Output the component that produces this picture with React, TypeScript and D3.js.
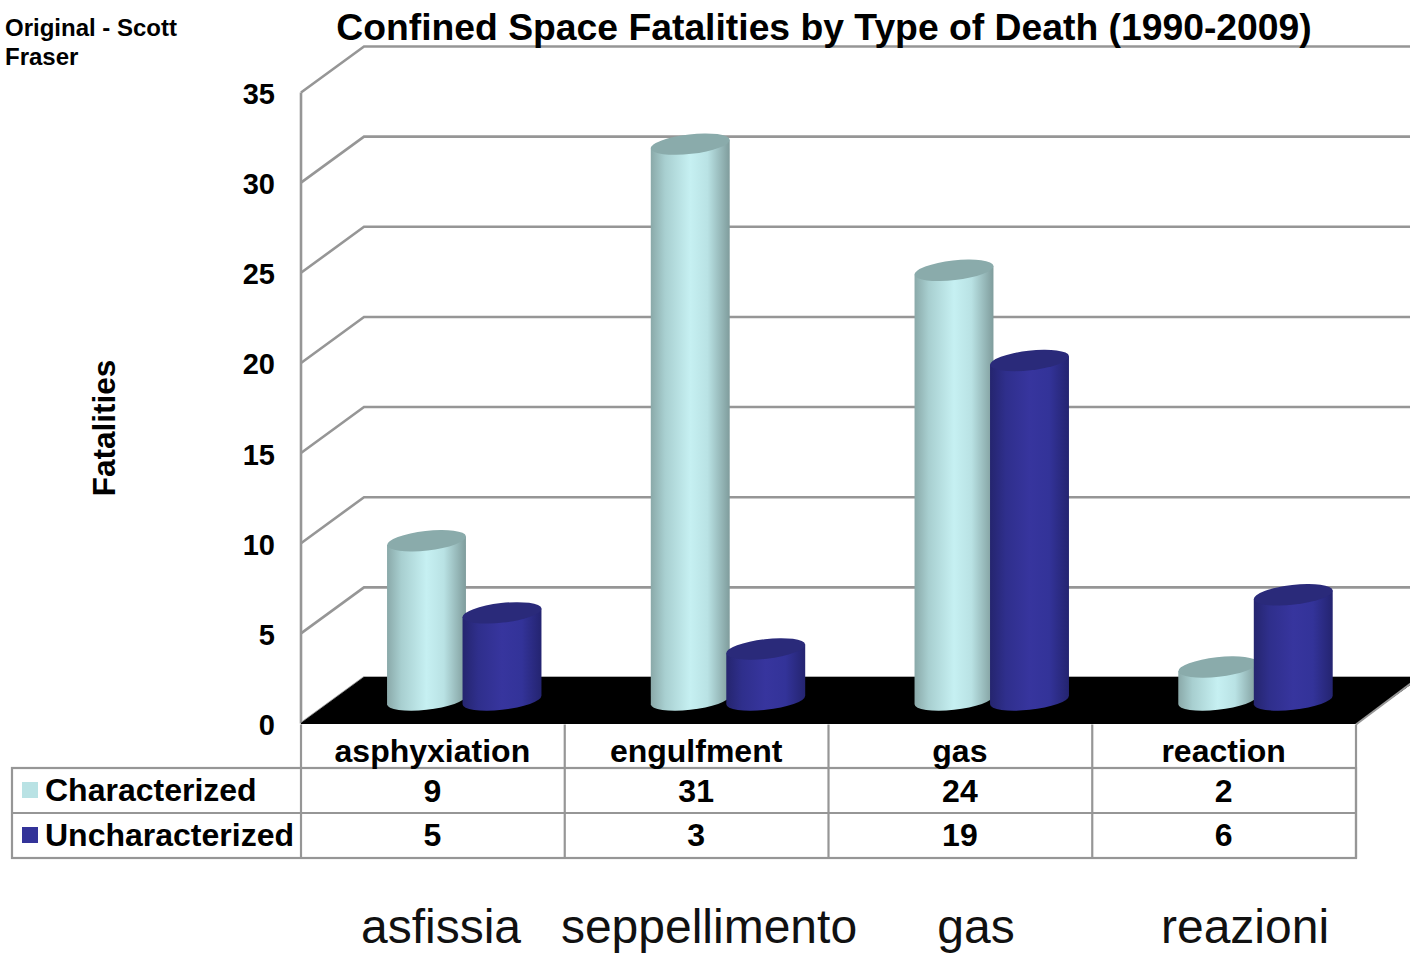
import React from "react";
import * as d3 from "d3";

const categories = ["asphyxiation", "engulfment", "gas", "reaction"];
const italianLabels = ["asfissia", "seppellimento", "gas", "reazioni"];
const characterized = [9, 31, 24, 2];
const uncharacterized = [5, 3, 19, 6];
const yTicks = [0, 5, 10, 15, 20, 25, 30, 35];
const seriesNames = ["Characterized", "Uncharacterized"];
const seriesValues = [characterized, uncharacterized];

const FONT = "'Liberation Sans', Arial, sans-serif";
const GRID = "#969696";

const y = d3.scaleLinear().domain([0, 35]).range([723.5, 92.5]);
const band = d3.scaleBand<string>().domain(categories).range([301, 1356]).padding(0);
const seriesX = d3.scaleLinear().domain([0, 1]).range([426.5, 502]);
const depthX = 63;
const depthY = -46;
const baseLift = 23.5;
const topLift = 20.5;

const RX = 39.7;
const RY = 9.8;
const ROT = -6.5;

function Cylinder({ cx, value, fill, top }: { cx: number; value: number; fill: string; top: string }) {
  const by = y(0) - baseLift;
  const ty = y(value) - topLift;
  const t = (ROT * Math.PI) / 180;
  const hw = Math.sqrt(RX * RX * Math.cos(t) ** 2 + RY * RY * Math.sin(t) ** 2);
  const off = ((RX * RX - RY * RY) * Math.sin(t) * Math.cos(t)) / hw;
  const body = `M${cx - hw},${ty - off} L${cx - hw},${by - off} A${RX},${RY} ${ROT} 0 0 ${cx + hw},${by + off} L${cx + hw},${ty + off} Z`;
  return (
    <g>
      <path d={body} fill={fill} />
      <ellipse cx={0} cy={0} rx={RX} ry={RY} fill={top} transform={`translate(${cx},${ty}) rotate(${ROT})`} />
    </g>
  );
}

export default function App() {
  const bw = band.bandwidth();
  const tableLines = [301, ...categories.map((c) => (band(c) as number) + bw)];
  const gridRight = 1410;
  return (
    <svg width={1410} height={953} viewBox="0 0 1410 953" style={{ position: "absolute", left: 0, top: 0, fontFamily: FONT }}>
      <defs>
        <linearGradient id="cyan" x1="0" x2="1" y1="0" y2="0">
          <stop offset="0" stopColor="#8aa9a9" />
          <stop offset="0.18" stopColor="#a8cfd0" />
          <stop offset="0.5" stopColor="#c6f0f2" />
          <stop offset="0.72" stopColor="#b9e2e4" />
          <stop offset="1" stopColor="#7f9c9c" />
        </linearGradient>
        <linearGradient id="blue" x1="0" x2="1" y1="0" y2="0">
          <stop offset="0" stopColor="#25256f" />
          <stop offset="0.2" stopColor="#2f2f8c" />
          <stop offset="0.5" stopColor="#37359e" />
          <stop offset="0.75" stopColor="#333399" />
          <stop offset="1" stopColor="#242470" />
        </linearGradient>
      </defs>
      <rect width={1410} height={953} fill="#fff" />

      <g stroke={GRID} strokeWidth={2.6} fill="none">
        {yTicks.map((v) => (
          <path key={v} d={`M301,${y(v)} L${301 + depthX},${y(v) + depthY} L${gridRight},${y(v) + depthY}`} />
        ))}
        <line x1={301} x2={301} y1={y(35)} y2={y(0)} />
      </g>

      <path d={`M301,${y(0)} L${301 + depthX},${y(0) + depthY} L1420,${y(0) + depthY} L${1356},${y(0)} Z`} fill="#000" stroke="#000" strokeWidth={1} />
      <line x1={1356} y1={y(0) + 1} x2={1412} y2={y(0) - 41} stroke={GRID} strokeWidth={2} />

      {seriesValues.map((vals, s) =>
        vals.map((v, i) => (
          <Cylinder
            key={`${s}-${i}`}
            cx={seriesX(s) + i * bw}
            value={v}
            fill={s === 0 ? "url(#cyan)" : "url(#blue)"}
            top={s === 0 ? "#8aabab" : "#2a2a7a"}
          />
        ))
      )}

      <g fontSize={29} fontWeight="bold" textAnchor="end" fill="#000">
        {yTicks.map((v) => (
          <text key={v} x={275} y={y(v) + 11.5}>{v}</text>
        ))}
      </g>

      <text x={824} y={40} fontSize={37.3} fontWeight="bold" textAnchor="middle">
        Confined Space Fatalities by Type of Death (1990-2009)
      </text>
      <text x={5} y={36} fontSize={24} fontWeight="bold">Original - Scott</text>
      <text x={5} y={65} fontSize={24} fontWeight="bold">Fraser</text>
      <text transform="translate(115,428) rotate(-90)" fontSize={31.5} fontWeight="bold" textAnchor="middle">Fatalities</text>

      <g stroke={GRID} strokeWidth={2.2} fill="none">
        <rect x={12} y={768} width={1344} height={90} />
        <line x1={12} x2={1356} y1={813} y2={813} />
        {tableLines.map((x) => (
          <line key={x} x1={x} x2={x} y1={724.5} y2={858} />
        ))}
      </g>

      <g fontSize={32} fontWeight="bold" textAnchor="middle">
        {categories.map((c) => (
          <text key={c} x={(band(c) as number) + bw / 2 - 0.5} y={762}>{c}</text>
        ))}
        {seriesValues.map((vals, s) =>
          vals.map((v, i) => (
            <text key={`${s}-${i}`} x={(band(categories[i]) as number) + bw / 2 - 0.5} y={802 + s * 44}>{v}</text>
          ))
        )}
      </g>

      {seriesNames.map((n, s) => (
        <g key={n}>
          <rect x={22} y={782 + s * 45} width={16} height={16} fill={s === 0 ? "#b9e2e4" : "#333399"} />
          <text x={45} y={801 + s * 44.5} fontSize={32} fontWeight="bold">{n}</text>
        </g>
      ))}

      <g fontSize={48} textAnchor="middle" fill="#111">
        {italianLabels.map((l, i) => (
          <text key={l} x={[441, 709, 976, 1245][i]} y={943}>{l}</text>
        ))}
      </g>
    </svg>
  );
}
